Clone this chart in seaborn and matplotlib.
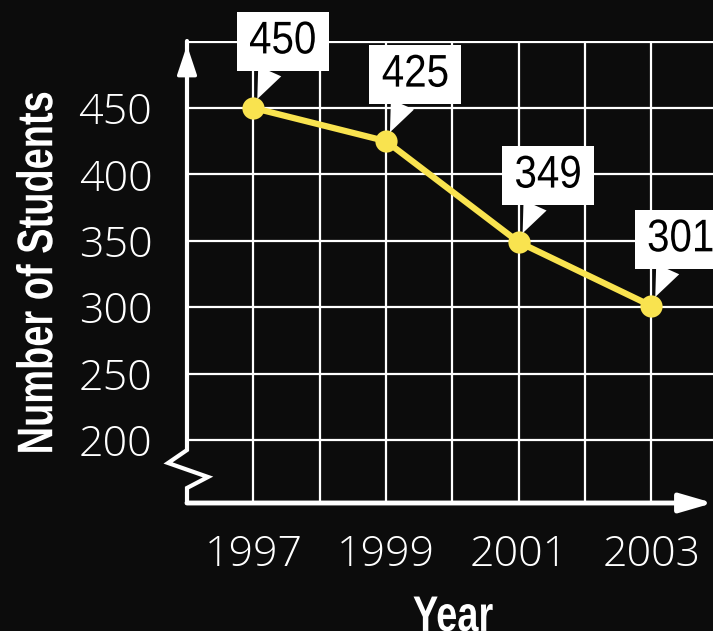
import numpy as np
import pandas as pd
import matplotlib
matplotlib.use('Agg')
import matplotlib.pyplot as plt
import seaborn as sns
from matplotlib import patheffects
from matplotlib.transforms import Affine2D

# data
years = [1997, 1999, 2001, 2003]
students = [450, 425, 349, 301]
x_ticks = [1997, 1998, 1999, 2000, 2001, 2002, 2003]
x_labels = ['1997', '', '1999', '', '2001', '', '2003']
y_ticks = [200, 250, 300, 350, 400, 450, 500]
y_labels = ['200', '250', '300', '350', '400', '450', '']

bg = '#0c0c0c'
yellow = '#F9E34F'
light = ['Open Sans', 'DejaVu Sans']
sans = ['Liberation Sans', 'DejaVu Sans']


class Condense(patheffects.AbstractPathEffect):
    # squeeze glyphs along the reading direction (no narrow font installed)
    def __init__(self, sx):
        super().__init__()
        self.sx = sx

    def draw_path(self, renderer, gc, tpath, affine, rgbFace=None):
        ext = tpath.get_extents()
        cx = (ext.x0 + ext.x1) / 2
        sq = Affine2D().translate(-cx, 0).scale(self.sx, 1).translate(cx, 0)
        renderer.draw_path(gc, tpath, sq + affine, rgbFace)


sns.set_theme(style='dark', rc={'axes.facecolor': bg, 'figure.facecolor': bg})

df = pd.DataFrame({'Year': years, 'Students': students})

fig = plt.figure(figsize=(7.13, 6.31), dpi=100)
ax = fig.add_axes([187 / 713, 128 / 631, 526 / 713, 462 / 631])

sns.lineplot(data=df, x='Year', y='Students', ax=ax, color=yellow, lw=4.5,
             marker='o', markersize=16, markeredgewidth=0, zorder=5)

ax.set_xlim(1996, 2003.93)
ax.set_ylim(152.6, 500.4)
ax.set_xticks(x_ticks)
ax.set_xticklabels(x_labels, family=light, fontweight='light', fontsize=31, color='white')
ax.set_yticks(y_ticks)
ax.set_yticklabels(y_labels, family=light, fontweight='light', fontsize=31, color='white')
ax.tick_params(axis='both', length=0)
ax.tick_params(axis='y', pad=25)
ax.tick_params(axis='x', pad=22)
ax.grid(True, color='white', lw=1.6)
for s in ax.spines.values():
    s.set_visible(False)

ax.set_ylabel('Number of Students', family=sans, fontweight='bold',
              fontsize=36, color='white', va='center',
              path_effects=[Condense(0.76)])
ax.yaxis.set_label_coords(-0.281, 0.498)
ax.set_xlabel('Year', family=sans, fontweight='bold', fontsize=36,
              color='white', va='top', path_effects=[Condense(0.76)])
ax.xaxis.set_label_coords(0.506, -0.199)

# left axis with the break mark
ax.plot([0, 0, -0.036, 0.040, 0, 0], [1, 0.1147, 0.0866, 0.0563, 0.0325, 0],
        transform=ax.transAxes, color='white', lw=3, clip_on=False,
        solid_joinstyle='miter', zorder=6)
ax.annotate('', xy=(0, 0.991), xytext=(0, 0.92), xycoords='axes fraction',
            arrowprops=dict(arrowstyle='-|>,head_length=0.9,head_width=0.3',
                            color='white', lw=2.5, mutation_scale=20,
                            shrinkA=0, shrinkB=0))
# bottom axis
ax.annotate('', xy=(1.0, 0), xytext=(0, 0), xycoords='axes fraction',
            arrowprops=dict(arrowstyle='-|>,head_length=1.0,head_width=0.29',
                            color='white', lw=3.5, mutation_scale=20,
                            shrinkA=0, shrinkB=0), zorder=6)

# callout labels
for yr, v in zip(years, students):
    ax.annotate(str(v), xy=(yr, v), xytext=(21.2, 47.9),
                textcoords='offset points', ha='center', va='center',
                family=sans, fontsize=33, color='black', zorder=10,
                annotation_clip=False, path_effects=[Condense(0.88)],
                bbox=dict(boxstyle='square,pad=0.17', fc='white', ec='none'),
                arrowprops=dict(arrowstyle='wedge,tail_width=0.55',
                                fc='white', ec='none', relpos=(0.375, 0),
                                shrinkA=0, shrinkB=7))

plt.savefig('out.png', dpi=100, facecolor=bg)
